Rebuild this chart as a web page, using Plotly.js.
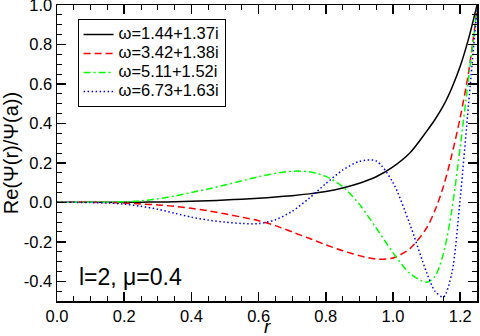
<!DOCTYPE html>
<html>
<head>
<meta charset="utf-8">
<script src="https://cdn.plot.ly/plotly-3.0.1.min.js"></script>
<style>html,body{margin:0;padding:0;background:#fff;}#chart{width:480px;height:336px;}</style>
</head>
<body>
<div id="chart"></div>
<script>
const rVals = [0,0.05,0.1,0.15,0.2,0.25,0.3,0.35,0.4,0.45,0.5,0.55,0.6,0.65,0.7,0.75,0.8,0.85,0.9,0.95,1.0,1.05,1.1,1.125,1.15,1.175,1.2,1.225,1.25];
const psi1 = [0,0,0,0,0,0.001,0.002,0.003,0.005,0.008,0.012,0.016,0.021,0.027,0.034,0.043,0.055,0.073,0.097,0.13,0.18,0.25,0.36,0.42,0.49,0.58,0.69,0.83,1.0];
const psi2 = [0,0,0,-0.001,-0.004,-0.008,-0.013,-0.02,-0.03,-0.043,-0.058,-0.075,-0.093,-0.118,-0.15,-0.182,-0.215,-0.245,-0.27,-0.288,-0.282,-0.235,-0.13,-0.04,0.08,0.24,0.43,0.66,0.98];
const psi3 = [0,0,0,0.001,0.003,0.008,0.018,0.032,0.05,0.068,0.088,0.109,0.13,0.147,0.158,0.155,0.132,0.08,-0.01,-0.13,-0.255,-0.36,-0.405,-0.375,-0.26,-0.04,0.28,0.63,0.98];
const psi4 = [0,0,-0.001,-0.003,-0.009,-0.02,-0.035,-0.055,-0.075,-0.09,-0.1,-0.107,-0.108,-0.088,-0.045,0.02,0.095,0.163,0.208,0.21,0.1,-0.11,-0.355,-0.45,-0.48,-0.36,0.02,0.5,0.98];
const seriesNames = ["ω=1.44+1.37i","ω=3.42+1.38i","ω=5.11+1.52i","ω=6.73+1.63i"];
const xTickVals = [0,0.2,0.4,0.6,0.8,1.0,1.2];
const xTickText = ["0.0","0.2","0.4","0.6","0.8","1.0","1.2"];
const yTickVals = [-0.4,-0.2,0,0.2,0.4,0.6,0.8,1.0];
const yTickText = ["-0.4","-0.2","0.0","0.2","0.4","0.6","0.8","1.0"];
const xTitle = "r";
const yTitle = "Re(Ψ(r)/Ψ(a))";
const noteText = "l=2, μ=0.4";

const series = [psi1, psi2, psi3, psi4];
const colors = ["#000000","#ff0000","#00ff00","#0000ff"];
const dashes = ["solid","7px,4px","7px,3px,2px,3px","1.5px,2.5px"];
const traces = series.map((ys,i)=>({
  x: rVals, y: ys, type:'scatter', mode:'lines',
  name: '<span style="font-size:16.5px">' + seriesNames[i] + '</span>',
  line:{color:colors[i], width:1.5, dash:dashes[i], shape:'spline', smoothing:0.8}
}));

const fnt = "'Liberation Sans', Arial, Helvetica, sans-serif";
const axisCommon = {
  showline:true, linecolor:'#000', linewidth:1.5, mirror:'allticks',
  ticks:'inside', ticklen:9, tickwidth:1.5, tickcolor:'#000',
  showgrid:false, zeroline:false, ticklabeloverflow:'allow',
  tickfont:{family:fnt, size:16.5, color:'#000'},
  minor:{dtick:0.05, ticks:'inside', ticklen:5, tickwidth:1, tickcolor:'#000', showgrid:false}
};
const layout = {
  width:480, height:336,
  margin:{l:57, r:3, t:5, b:35},
  paper_bgcolor:'#fff', plot_bgcolor:'#fff',
  font:{family:fnt, color:'#000'},
  xaxis: Object.assign({}, axisCommon, {
    range:[0,1.25], tickmode:'array', tickvals:xTickVals, ticktext:xTickText
  }),
  yaxis: Object.assign({}, axisCommon, {
    range:[-0.5,1.0004], tickmode:'array', tickvals:yTickVals, ticktext:yTickText,
    title:{text:yTitle, font:{family:fnt, size:20, color:'#000'}, standoff:2}
  }),
  showlegend:true,
  legend:{x:0.049, y:0.953, xanchor:'left', yanchor:'top', bgcolor:'#fff',
    bordercolor:'#000', borderwidth:1, font:{family:fnt, size:12, color:'#000'},
    tracegroupgap:0},
  annotations:[
    {xref:'paper', yref:'paper', x:0.5, y:-0.117, xanchor:'center', yanchor:'bottom',
     yshift:-3, text:'<i>' + xTitle + '</i>', showarrow:false,
     font:{family:fnt, size:19, color:'#000'}},
    {xref:'paper', yref:'paper', x:0.048, y:0.08, xanchor:'left', yanchor:'middle',
     text:noteText, showarrow:false, font:{family:fnt, size:23, color:'#000'}}
  ]
};
Plotly.newPlot('chart', traces, layout, {displayModeBar:false, staticPlot:true});
</script>
</body>
</html>
